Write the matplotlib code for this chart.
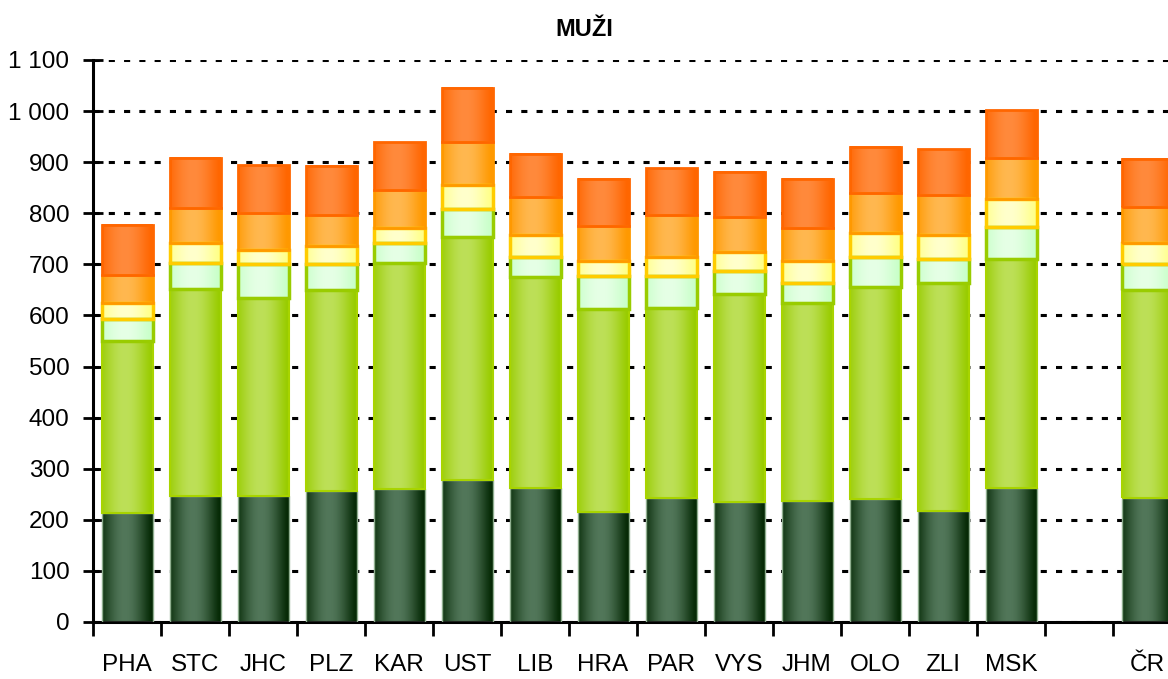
import numpy as np
import matplotlib
matplotlib.use("Agg")
import matplotlib.pyplot as plt
from matplotlib.colors import to_rgb
from matplotlib.ticker import FuncFormatter

plt.rcParams['font.family'] = ['Liberation Sans', 'DejaVu Sans']

# kraje + prazdna mezera + CR
labels = ['PHA', 'STC', 'JHC', 'PLZ', 'KAR', 'UST', 'LIB', 'HRA', 'PAR',
          'VYS', 'JHM', 'OLO', 'ZLI', 'MSK', '', 'ČR']
nan = np.nan
s1 = [213, 247, 247, 256, 260, 278, 263, 215, 243, 234, 236, 240, 218, 262, nan, 242]
s2 = [337, 404, 387, 394, 442, 475, 412, 398, 372, 408, 388, 416, 446, 449, nan, 407]
s3 = [43, 52, 67, 51, 39, 55, 40, 64, 62, 45, 40, 58, 47, 62, nan, 51]
s4 = [32, 39, 28, 34, 30, 47, 42, 30, 38, 38, 43, 47, 47, 55, nan, 41]
s5 = [54, 68, 72, 61, 75, 84, 74, 68, 82, 67, 65, 78, 78, 81, nan, 71]
s6 = [98, 99, 93, 96, 93, 107, 85, 92, 91, 89, 96, 91, 90, 93, nan, 94]
series = [s1, s2, s3, s4, s5, s6]

# (okraj, stred, obrys, tloustka obrysu)
styles = [
    ('#062a06', '#52775a', '#8fae8f', 1.0),
    ('#99cc00', '#bde058', '#a8d400', 1.5),
    ('#c8ffc8', '#e6ffe6', '#99cc00', 2.5),
    ('#ffff88', '#ffffcc', '#ffcc00', 2.5),
    ('#ff9900', '#ffb850', '#ff9900', 2.0),
    ('#ff6600', '#ff8a3c', '#ff6600', 2.0),
]


def gradient(edge, center, n=64):
    t = np.linspace(0, 1, n)
    w = np.clip(np.cos((t - 0.45) * np.pi / 1.05), 0, 1) ** 1.2
    e = np.array(to_rgb(edge))
    c = np.array(to_rgb(center))
    img = e[None, :] * (1 - w[:, None]) + c[None, :] * w[:, None]
    return img[None, :, :]


fig = plt.figure(figsize=(11.68, 6.79), dpi=100)
ax = fig.add_axes([93 / 1168, 1 - 622 / 679, 1088 / 1168, 562 / 679])

x = np.arange(len(labels))
bottom = np.zeros(len(labels))
for vals, (edge, center, outline, lw) in zip(series, styles):
    vals = np.array(vals, dtype=float)
    bars = ax.bar(x, vals, 0.75, bottom=bottom, facecolor='none',
                  edgecolor=outline, linewidth=lw, zorder=3)
    img = gradient(edge, center)
    for r in bars:
        h = r.get_height()
        if np.isnan(h):
            continue
        x0, y0, w = r.get_x(), r.get_y(), r.get_width()
        ax.imshow(img, extent=(x0, x0 + w, y0, y0 + h), aspect='auto',
                  interpolation='bilinear', zorder=2)
    bottom = bottom + np.nan_to_num(vals)

ax.set_xlim(-0.5, 15.5)
ax.set_ylim(0, 1100)
ax.set_yticks(np.arange(0, 1101, 100))
ax.yaxis.set_major_formatter(FuncFormatter(lambda v, p: f'{int(v):,}'.replace(',', ' ')))
ax.grid(axis='y', color='black', linewidth=2.2, linestyle=(0, (2, 3)), zorder=1)
ax.set_axisbelow(True)

ax.set_xticks(np.arange(-0.5, 15.6, 1))
ax.set_xticklabels([])
ax.set_xticks(x, minor=True)
ax.set_xticklabels(labels, minor=True, fontsize=17.5)
ax.tick_params(axis='x', which='major', direction='out', length=10, width=2)
ax.tick_params(axis='x', which='minor', length=0, pad=23)
ax.tick_params(axis='y', direction='inout', length=14, width=2, labelsize=17.5, pad=10)

for s in ['top', 'right']:
    ax.spines[s].set_visible(False)
for s in ['left', 'bottom']:
    ax.spines[s].set_linewidth(2.2)

fig.text(0.5, 1 - 30 / 679, 'MUŽI', ha='center', va='center',
         fontsize=17, fontweight='bold')

fig.savefig('out.png', dpi=100)
